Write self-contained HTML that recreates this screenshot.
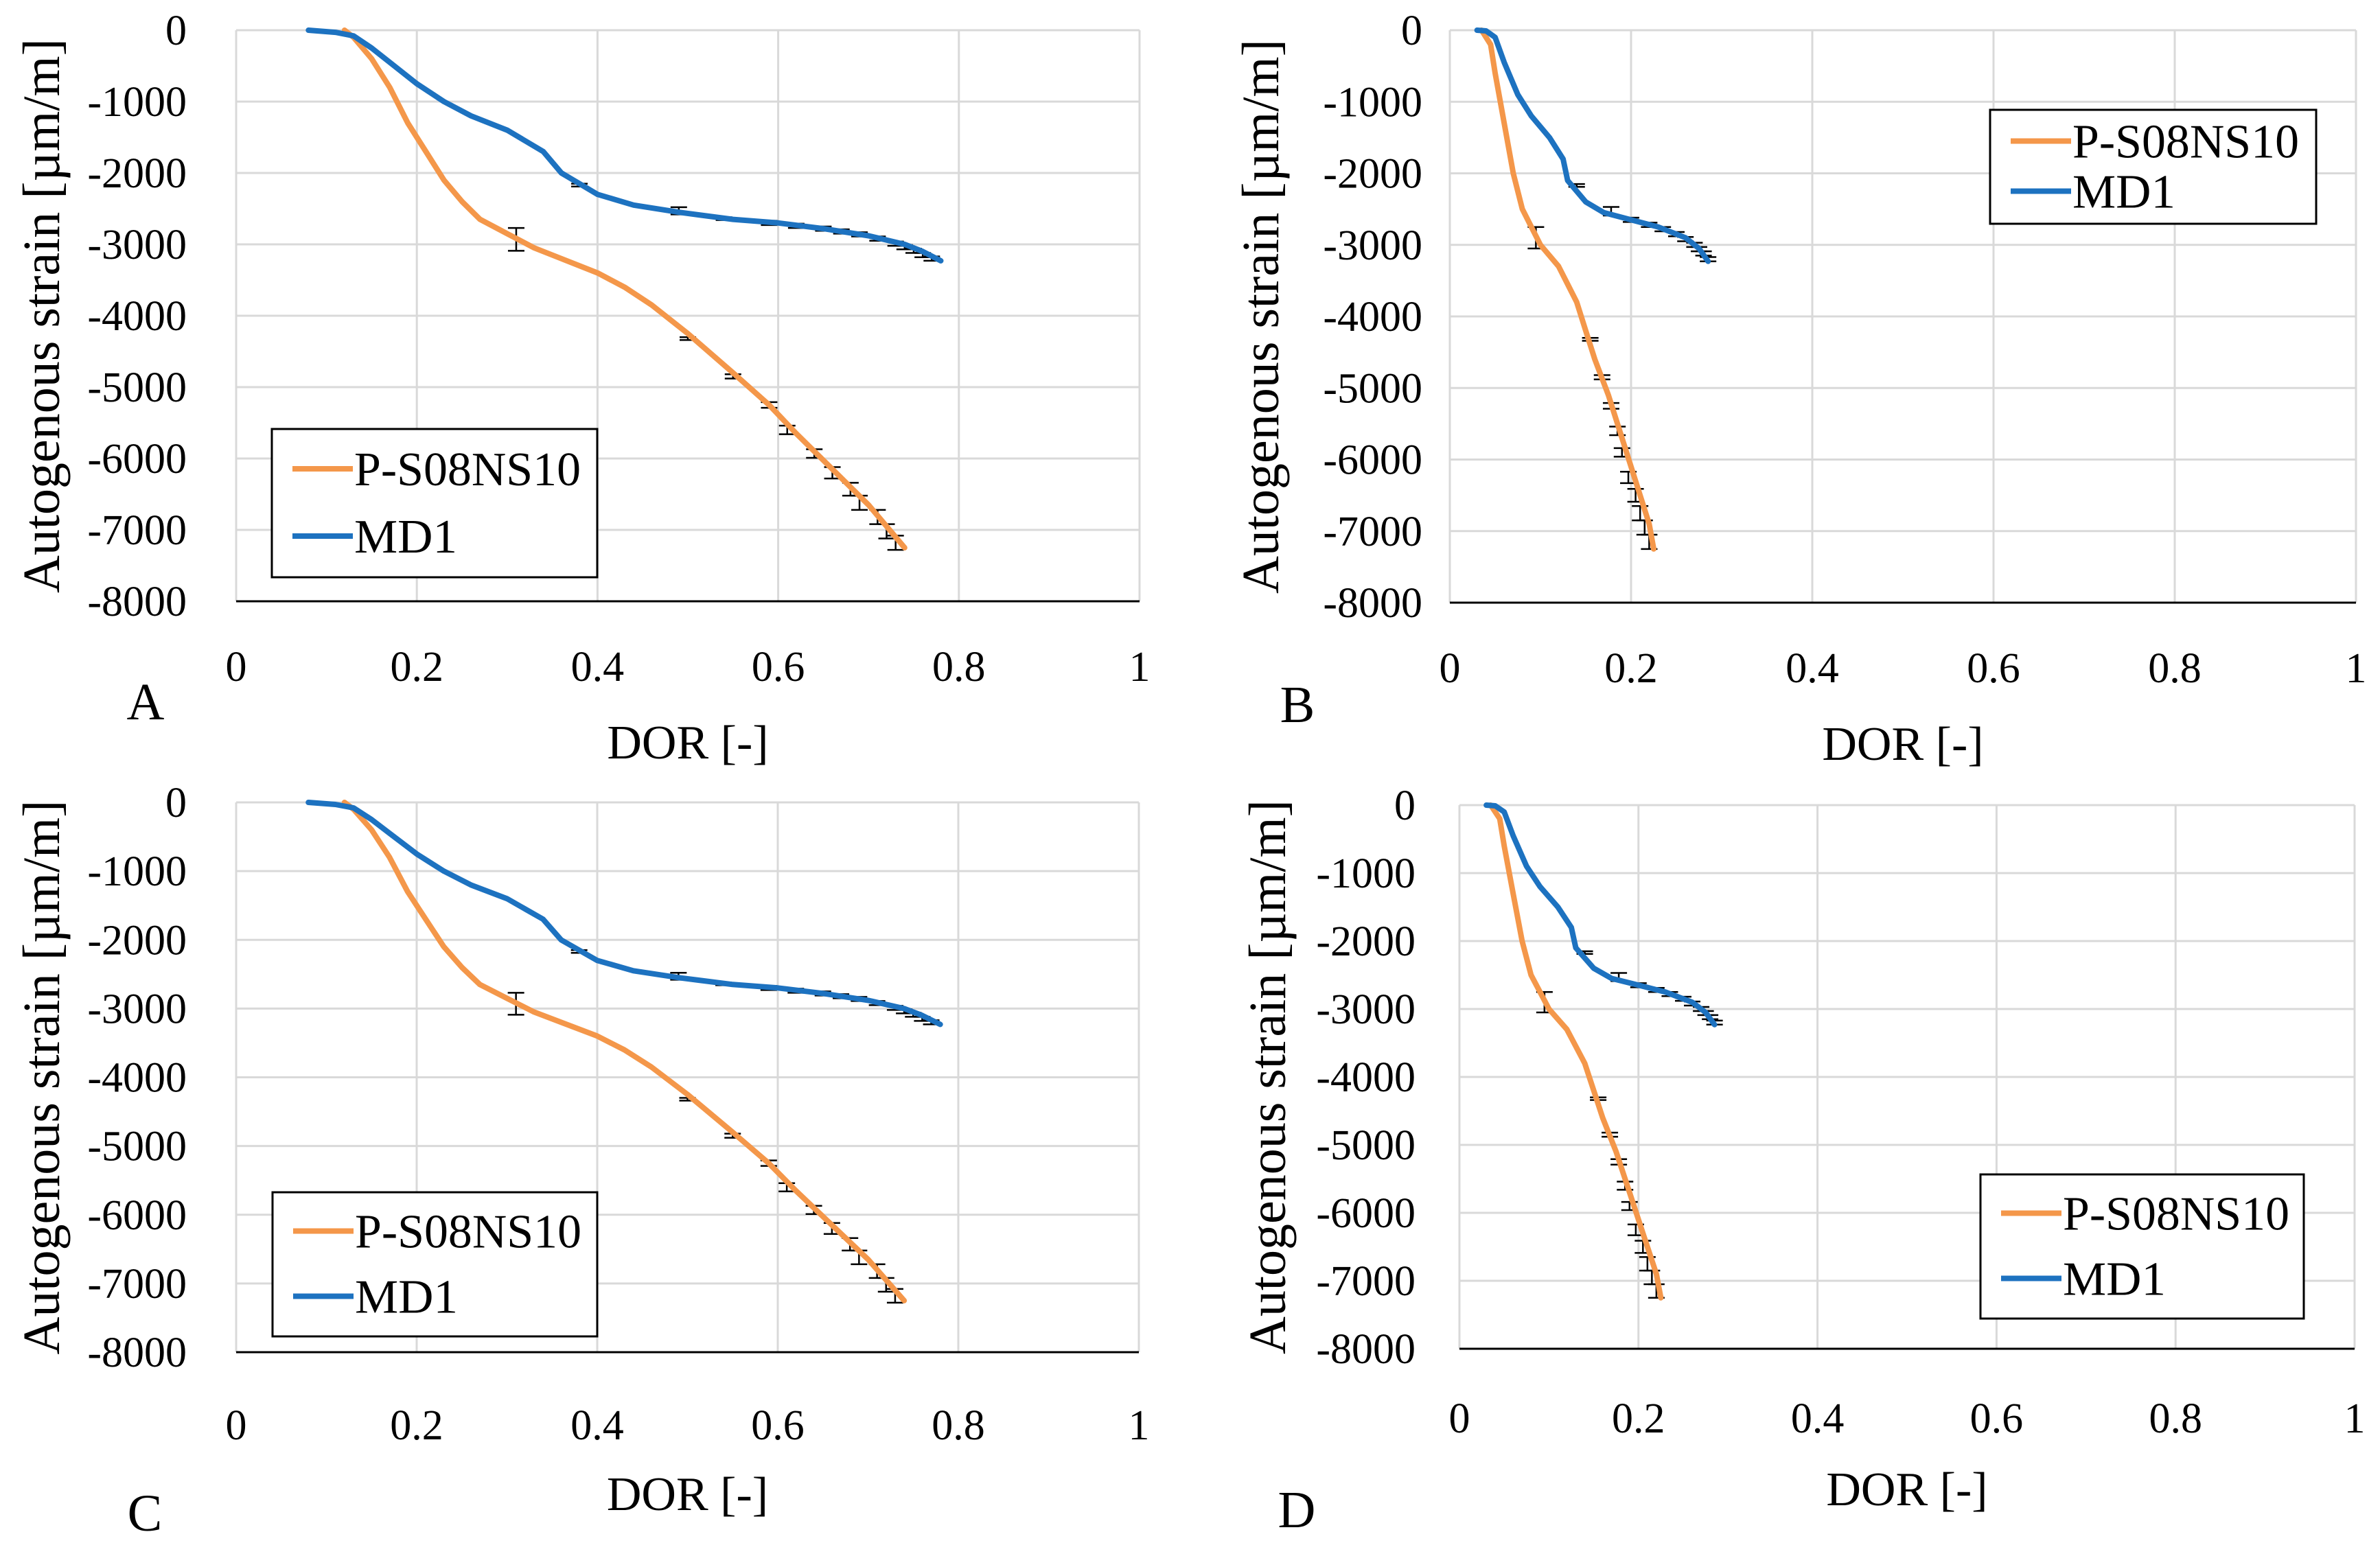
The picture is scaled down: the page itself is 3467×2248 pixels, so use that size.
<!DOCTYPE html>
<html><head><meta charset="utf-8">
<style>
html,body{margin:0;padding:0;background:#fff;}
svg{display:block;}
text{font-family:"Liberation Serif",serif;fill:#000;}
</style></head>
<body>
<svg id="fig" width="3467" height="2248" viewBox="0 0 3467 2248" xmlns="http://www.w3.org/2000/svg"></svg>
<script>
const xTicks=[0,0.2,0.4,0.6,0.8,1];
const xTickLabels=["0","0.2","0.4","0.6","0.8","1"];
const yTicks=[0,-1000,-2000,-3000,-4000,-5000,-6000,-7000,-8000];
const yTickLabels=["0","-1000","-2000","-3000","-4000","-5000","-6000","-7000","-8000"];
const seriesNames=["P-S08NS10","MD1"];
// Panels A/C data
const orangeAC_x=[0.12,0.13,0.15,0.17,0.19,0.21,0.23,0.25,0.27,0.30,0.33,0.36,0.40,0.43,0.46,0.50,0.55,0.59,0.62,0.66,0.70,0.74];
const orangeAC_y=[0,-100,-400,-800,-1300,-1700,-2100,-2400,-2650,-2850,-3050,-3200,-3400,-3600,-3850,-4250,-4800,-5250,-5650,-6150,-6650,-7250];
const blueAC_x=[0.08,0.11,0.13,0.15,0.17,0.20,0.23,0.26,0.30,0.34,0.36,0.38,0.40,0.44,0.49,0.55,0.60,0.65,0.70,0.74,0.76,0.78];
const blueAC_y=[0,-30,-80,-250,-450,-750,-1000,-1200,-1400,-1700,-2000,-2150,-2300,-2450,-2550,-2650,-2700,-2780,-2880,-3000,-3100,-3230];
// Panels B/D data
const orangeBD_x=[0.035,0.045,0.05,0.06,0.07,0.08,0.09,0.10,0.12,0.14,0.15,0.16,0.175,0.19,0.205,0.22,0.225];
const orangeBD_y=[0,-200,-600,-1300,-2000,-2500,-2750,-3000,-3300,-3800,-4200,-4600,-5100,-5700,-6300,-6900,-7250];
const blueBD_x=[0.03,0.04,0.05,0.06,0.075,0.09,0.11,0.125,0.13,0.15,0.17,0.20,0.23,0.26,0.275,0.285];
const blueBD_y=[0,-10,-100,-450,-900,-1200,-1500,-1800,-2100,-2400,-2550,-2650,-2750,-2900,-3050,-3230];
// error bars (x, y, half-error)
const errOrangeAC_x=[0.31,0.50,0.55,0.59,0.61,0.64,0.66,0.68,0.69,0.71,0.72,0.73];
const errOrangeAC_y=[-2930,-4320,-4850,-5250,-5600,-5930,-6200,-6430,-6620,-6820,-7020,-7180];
const errOrangeAC_e=[160,20,30,40,60,60,80,90,100,100,100,100];
const errBlueAC_x=[0.38,0.49,0.54,0.59,0.62,0.65,0.67,0.69,0.71,0.73,0.74,0.75,0.76,0.77];
const errBlueAC_y=[-2170,-2530,-2640,-2700,-2740,-2780,-2820,-2860,-2920,-2990,-3040,-3090,-3150,-3200];
const errBlueAC_e=[20,50,20,30,30,30,30,30,30,30,30,30,30,30];
const errOrangeBD_x=[0.095,0.155,0.168,0.178,0.185,0.19,0.197,0.205,0.21,0.215,0.22];
const errOrangeBD_y=[-2900,-4320,-4850,-5250,-5600,-5900,-6250,-6500,-6750,-6950,-7150];
const errOrangeBD_e=[150,20,30,40,60,60,80,90,100,100,100];
const errBlueBD_x=[0.14,0.178,0.2,0.22,0.235,0.25,0.26,0.27,0.275,0.28,0.285];
const errBlueBD_y=[-2170,-2530,-2650,-2720,-2780,-2850,-2920,-3000,-3060,-3120,-3200];
const errBlueBD_e=[20,60,30,30,30,30,30,30,30,30,30];

const NS="http://www.w3.org/2000/svg";
const svg=document.getElementById('fig');
function mk(tag,attrs,parent){const e=document.createElementNS(NS,tag);for(const k in attrs)e.setAttribute(k,attrs[k]);(parent||svg).appendChild(e);return e;}

const panels=[
 {id:"a",L:344,R:1660,T:44,B:876,ox:orangeAC_x,oy:orangeAC_y,bx:blueAC_x,by:blueAC_y,
  eo:[errOrangeAC_x,errOrangeAC_y,errOrangeAC_e],eb:[errBlueAC_x,errBlueAC_y,errBlueAC_e],
  leg:[396,625,474,216],tickY:992,dorY:1105,letter:"A",lx:212,ly:1048,ytR:272,yTitleX:62},
 {id:"b",L:2112,R:3432,T:44,B:878,ox:orangeBD_x,oy:orangeBD_y,bx:blueBD_x,by:blueBD_y,
  eo:[errOrangeBD_x,errOrangeBD_y,errOrangeBD_e],eb:[errBlueBD_x,errBlueBD_y,errBlueBD_e],
  leg:[2899,160,475,166],tickY:994,dorY:1107,letter:"B",lx:1890,ly:1052,ytR:2072,yTitleX:1838},
 {id:"c",L:344,R:1659,T:1169,B:1970,ox:orangeAC_x,oy:orangeAC_y,bx:blueAC_x,by:blueAC_y,
  eo:[errOrangeAC_x,errOrangeAC_y,errOrangeAC_e],eb:[errBlueAC_x,errBlueAC_y,errBlueAC_e],
  leg:[397,1737,473,210],tickY:2097,dorY:2200,letter:"C",lx:211,ly:2230,ytR:272,yTitleX:62},
 {id:"d",L:2126,R:3430,T:1173,B:1965,ox:orangeBD_x,oy:orangeBD_y,bx:blueBD_x,by:blueBD_y,
  eo:[errOrangeBD_x,errOrangeBD_y,errOrangeBD_e],eb:[errBlueBD_x,errBlueBD_y,errBlueBD_e],
  leg:[2885,1711,471,210],tickY:2087,dorY:2193,letter:"D",lx:1889,ly:2225,ytR:2062,yTitleX:1848}
];

panels.forEach(p=>{
  const g=mk('g',{});
  
  
  const sx=v=>p.L+(v-0)/(1-0)*(p.R-p.L);
  const sy=v=>p.T+(0-v)/8000*(p.B-p.T);
  xTicks.forEach((t,i)=>{
    const l=mk('line',{x1:sx(t),x2:sx(t),y1:p.T,y2:p.B,stroke:'#d9d9d9','stroke-width':3},g);
    
    
    const tx=mk('text',{x:sx(t),y:p.tickY,'font-size':62,'text-anchor':'middle'},g);
    tx.textContent=xTickLabels[i];
    
    
  });
  yTicks.forEach((t,i)=>{
    const l=mk('line',{x1:p.L,x2:p.R,y1:sy(t),y2:sy(t),stroke:'#d9d9d9','stroke-width':3},g);
    
    
    const tx=mk('text',{x:p.ytR,y:sy(t)+21,'font-size':62,'text-anchor':'end'},g);
    tx.textContent=yTickLabels[i];
    
    
  });
  const ax=mk('line',{x1:p.L,x2:p.R,y1:p.B,y2:p.B,stroke:'#000','stroke-width':3},g);
  
  
  [p.eo,p.eb].forEach(e=>{
    e[0].forEach((x,i)=>{
      const X=sx(x),y1=sy(e[1][i]+e[2][i]),y2=sy(e[1][i]-e[2][i]);
      const eb=mk('path',{d:`M${X},${y1}V${y2}M${X-12},${y1}H${X+12}M${X-12},${y2}H${X+12}`,stroke:'#000','stroke-width':2.5,fill:'none'},g);
      
      
    });
  });
  [[p.ox,p.oy,'#f4974a','p-s08ns10-line'],[p.bx,p.by,'#1d72c0','md1-line']].forEach(([xs,ys,c,n])=>{
    const d=xs.map((x,i)=>(i?'L':'M')+sx(x).toFixed(1)+','+sy(ys[i]).toFixed(1)).join('');
    const pl=mk('path',{d:d,stroke:c,'stroke-width':8,fill:'none','stroke-linejoin':'round','stroke-linecap':'round'},g);
    
    
  });
  const [lx,ly,lw,lh]=p.leg;
  const lg=mk('g',{},g);
  
  
  mk('rect',{x:lx,y:ly,width:lw,height:lh,fill:'#fff',stroke:'#000','stroke-width':3},lg);
  const cols=['#f4974a','#1d72c0'];
  seriesNames.forEach((n,i)=>{
    const yy=ly+lh*(i===0?0.25:0.75)-(i===0?-4:6);
    const sw=mk('line',{x1:lx+30,x2:lx+118,y1:yy,y2:yy,stroke:cols[i],'stroke-width':8},lg);
    
    
    const t=mk('text',{x:lx+120,y:yy+24,'font-size':70,textLength:i===0?330:150,lengthAdjust:'spacingAndGlyphs'},lg);
    t.textContent=n;
    
    
  });
  const xt=mk('text',{x:(p.L+p.R)/2,y:p.dorY,'font-size':70,'text-anchor':'middle'},g);
  xt.textContent='DOR [-]';
  
  
  const yt=mk('text',{x:0,y:0,'font-size':76,'text-anchor':'middle',transform:`translate(${p.yTitleX+24},${(p.T+p.B)/2}) rotate(-90)`},g);
  yt.textContent='Autogenous strain [\u00b5m/m]';
  
  
  const lt=mk('text',{x:p.lx,y:p.ly,'font-size':76,'text-anchor':'middle'},g);
  lt.textContent=p.letter;
  
  
});
</script>
</body></html>
